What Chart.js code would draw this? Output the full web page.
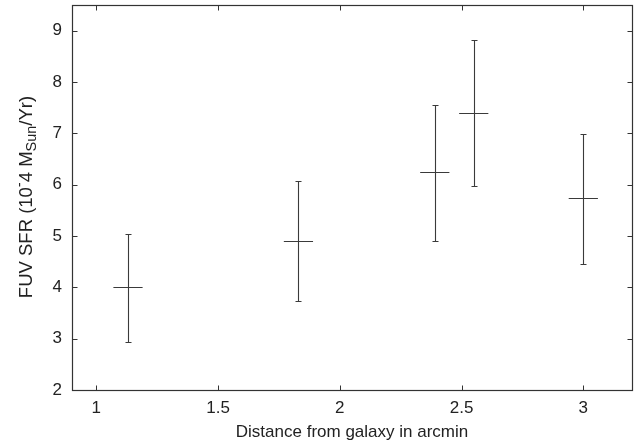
<!DOCTYPE html>
<html>
<head>
<meta charset="utf-8">
<script src="https://cdn.jsdelivr.net/npm/chart.js@4.4.0/dist/chart.umd.min.js"></script>
<style>
  html, body { margin: 0; padding: 0; background: #fff; }
</style>
</head>
<body>
<canvas id="sfrChart" width="641" height="448"></canvas>
<script>
// values
const distance = [1.13, 1.83, 2.39, 2.55, 3.0];     // arcmin
const distErr  = [0.06, 0.06, 0.06, 0.06, 0.06];    // half width of the horizontal bar
const sfr      = [4.0, 4.9, 6.24, 7.4, 5.74];       // 10^-4 Msun/yr
const sfrLow   = [2.94, 3.74, 4.91, 5.98, 4.46];
const sfrHigh  = [5.03, 6.07, 7.55, 8.82, 6.99];
const xTicks   = [1, 1.5, 2, 2.5, 3];
const yTicks   = [2, 3, 4, 5, 6, 7, 8, 9];

const FONT = '"Liberation Sans", Arial, Helvetica, sans-serif';
const TEXT_COLOR = '#222';
const LINE_COLOR = '#333';

// y title has a superscript and a subscript, so draw it by pieces
const yTitleParts = [
    { text: 'FUV SFR (10', kind: 'normal' },
    { text: '-', kind: 'sup' },
    { text: '4 M', kind: 'normal' },
    { text: 'Sun', kind: 'sub' },
    { text: '/Yr)', kind: 'normal' },
];

const yTitlePlugin = {
    id: 'yTitle',
    afterDraw(chart) {
        const ctx = chart.ctx;
        const big = '18.5px ' + FONT;
        const small = '14.5px ' + FONT;
        ctx.save();
        let total = 0;
        yTitleParts.forEach(p => {
            ctx.font = p.kind === 'normal' ? big : small;
            p.w = ctx.measureText(p.text).width;
            total += p.w;
        });
        ctx.translate(32, 197);
        ctx.rotate(-Math.PI / 2);
        ctx.fillStyle = TEXT_COLOR;
        ctx.textBaseline = 'alphabetic';
        ctx.textAlign = 'left';
        let cx = -total / 2;
        yTitleParts.forEach(p => {
            ctx.font = p.kind === 'normal' ? big : small;
            let dy = 0;
            if (p.kind === 'sup') dy = -8;
            if (p.kind === 'sub') dy = 4;
            ctx.fillText(p.text, cx, dy);
            cx += p.w;
        });
        ctx.restore();
    }
};

// frame, inward ticks on all four sides, and the error bars
const framePlugin = {
    id: 'frameAndBars',
    afterDatasetsDraw(chart) {
        const ctx = chart.ctx;
        const area = chart.chartArea;
        const x = chart.scales.x;
        const y = chart.scales.y;
        const crisp = v => Math.round(v) + 0.5;
        ctx.save();

        // error bars
        ctx.strokeStyle = '#3a3a3a';
        ctx.lineWidth = 1.1;
        for (let i = 0; i < distance.length; i++) {
            const px = crisp(x.getPixelForValue(distance[i]));
            const py = crisp(y.getPixelForValue(sfr[i]));
            const lo = crisp(y.getPixelForValue(sfrLow[i]));
            const hi = crisp(y.getPixelForValue(sfrHigh[i]));
            const xl = x.getPixelForValue(distance[i] - distErr[i]);
            const xr = x.getPixelForValue(distance[i] + distErr[i]);
            ctx.beginPath();
            ctx.moveTo(px, lo); ctx.lineTo(px, hi);
            ctx.moveTo(px - 3, lo); ctx.lineTo(px + 3, lo);
            ctx.moveTo(px - 3, hi); ctx.lineTo(px + 3, hi);
            ctx.moveTo(xl, py); ctx.lineTo(xr, py);
            ctx.stroke();
        }

        // frame
        ctx.strokeStyle = LINE_COLOR;
        ctx.lineWidth = 1.2;
        const L = crisp(area.left), R = crisp(area.right);
        const T = crisp(area.top), B = crisp(area.bottom);
        ctx.strokeRect(L, T, R - L, B - T);

        // tick marks pointing inwards
        const tl = 5;
        ctx.lineWidth = 1;
        ctx.beginPath();
        xTicks.forEach(v => {
            const px = crisp(x.getPixelForValue(v));
            ctx.moveTo(px, B); ctx.lineTo(px, B - tl);
            ctx.moveTo(px, T); ctx.lineTo(px, T + tl);
        });
        yTicks.forEach(v => {
            const py = crisp(y.getPixelForValue(v));
            ctx.moveTo(L, py); ctx.lineTo(L + tl, py);
            ctx.moveTo(R, py); ctx.lineTo(R - tl, py);
        });
        ctx.stroke();
        ctx.restore();
    }
};

const points = distance.map((d, i) => ({ x: d, y: sfr[i] }));

new Chart(document.getElementById('sfrChart'), {
    type: 'scatter',
    data: {
        datasets: [{
            label: 'FUV SFR',
            data: points,
            pointRadius: 0,
            pointHoverRadius: 0,
            showLine: false,
        }],
    },
    options: {
        responsive: false,
        animation: false,
        devicePixelRatio: 1,
        layout: { padding: { top: 5, right: 9, left: 0, bottom: 0 } },
        plugins: {
            legend: { display: false },
            tooltip: { enabled: false },
        },
        scales: {
            x: {
                type: 'linear',
                min: 0.9,
                max: 3.2,
                afterBuildTicks: s => { s.ticks = xTicks.map(v => ({ value: v })); },
                afterFit: s => { s.height = 58; s.paddingLeft = 0; s.paddingRight = 0; },
                grid: { display: false, drawTicks: false },
                border: { display: false },
                ticks: {
                    color: TEXT_COLOR,
                    font: { family: FONT, size: 17 },
                    padding: 8,
                    maxRotation: 0,
                    autoSkip: false,
                    callback: v => String(v),
                },
                title: {
                    display: true,
                    text: 'Distance from galaxy in arcmin',
                    color: TEXT_COLOR,
                    font: { family: FONT, size: 17 },
                    padding: { top: 0, bottom: 5 },
                },
            },
            y: {
                type: 'linear',
                min: 2,
                max: 9.5,
                afterBuildTicks: s => { s.ticks = yTicks.map(v => ({ value: v })); },
                // labels sit well inside the range, so no extra room above or below
                afterFit: s => { s.width = 72; s.paddingTop = 0; s.paddingBottom = 0; },
                grid: { display: false, drawTicks: false },
                border: { display: false },
                ticks: {
                    color: TEXT_COLOR,
                    font: { family: FONT, size: 17 },
                    padding: 10,
                    autoSkip: false,
                    callback: v => String(v),
                },
            },
        },
    },
    plugins: [framePlugin, yTitlePlugin],
});
</script>
</body>
</html>
